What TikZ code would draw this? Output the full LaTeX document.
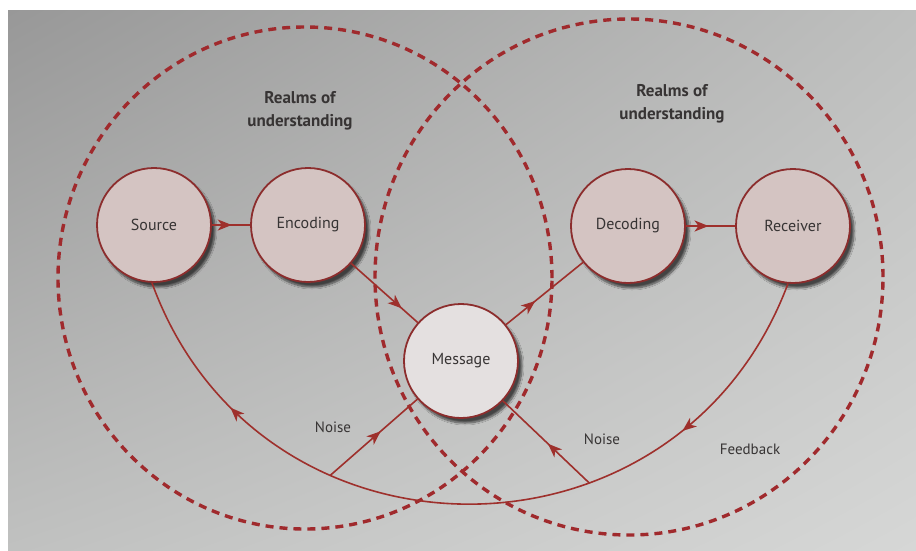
\documentclass[tikz,border=0pt]{standalone}
\usepackage{fontspec}
\setmainfont{PT Sans}
\usetikzlibrary{arrows.meta,decorations.markings,shadows.blur,shadings}

\definecolor{bgUL}{RGB}{152,152,152}
\definecolor{bgUR}{RGB}{190,191,190}
\definecolor{bgLL}{RGB}{192,193,192}
\definecolor{bgLR}{RGB}{214,215,214}
\definecolor{realmred}{RGB}{160,42,45}
\definecolor{wire}{RGB}{158,48,44}
\definecolor{rim}{RGB}{140,45,45}
\definecolor{disc}{RGB}{212,196,194}
\definecolor{discmsg}{RGB}{228,224,224}
\definecolor{ink}{RGB}{55,52,52}

\tikzset{
  stage/.style={circle, minimum size=114pt, inner sep=0pt, draw=rim,
    line width=1.8pt, fill=disc, text=ink,
    font=\fontsize{16}{18}\selectfont,
    blur shadow={shadow xshift=4pt, shadow yshift=-5pt,
      shadow blur steps=10, shadow opacity=65}},
  realm/.style={draw=realmred, line width=3.4pt, dash pattern=on 8pt off 6pt},
  flow/.style={draw=wire, line width=1.6pt},
  headat/.style={postaction={decorate}, decoration={markings,
    mark=at position #1 with {\arrow[color=wire]{Stealth[length=14pt,width=11pt,inset=4pt]}}}},
  twoheads/.style 2 args={postaction={decorate}, decoration={markings,
    mark=at position #1 with {\arrow[color=wire]{Stealth[length=14pt,width=11pt,inset=4pt]}},
    mark=at position #2 with {\arrow[color=wire]{Stealth[length=14pt,width=11pt,inset=4pt]}}}},
  lbl/.style={text=ink, font=\fontsize{15}{17}\selectfont},
  realmtxt/.style={text=ink, align=center, font=\bfseries\fontsize{17}{23}\selectfont},
}

\begin{document}
\begin{tikzpicture}[x=1pt,y=-1pt]
  \useasboundingbox (0,0) rectangle (916,550);
  \fill[white] (0,0) rectangle (916,550);
  % page background
  \shade[upper left=bgUL, upper right=bgUR, lower left=bgLL, lower right=bgLR]
    (8,10) rectangle (916,550);

  % the two realms of understanding
  \draw[realm] (305,278) ellipse [x radius=247pt, y radius=251pt];
  \draw[realm] (629,277) ellipse [x radius=254pt, y radius=258pt];

  % stages
  \node[stage] (src) at (154,225) {Source};
  \node[stage] (enc) at (308,225) {Encoding};
  \node[stage, fill=discmsg] (msg) at (461,361) {Message};
  \node[stage] (dec) at (628,226) {Decoding};
  \node[stage] (rcv) at (793,226) {Receiver};

  % main flow
  \draw[flow, headat=0.52] (src) -- (enc);
  \draw[flow, headat=0.76] (enc) -- (msg);
  \draw[flow, headat=0.38] (msg) -- (dec);
  \draw[flow, headat=0.46] (dec) -- (rcv);

  % feedback loop
  \draw[flow, twoheads={0.222}{0.82}] (rcv.-95)
    .. controls +(-110,294) and +(107,295) ..
    coordinate[pos=0.345] (jr) coordinate[pos=0.68] (jl) (src.-92);

  % noise
  \draw[flow, headat=0.58] (jl) -- (msg);
  \draw[flow, headat=0.48] (jr) -- (msg);

  % labels
  \node[lbl] (n1) at (333,427) {Noise};
  \node[lbl] (n2) at (602,439) {Noise};
  \node[lbl] (fb) at (750,449) {Feedback};
  \node[realmtxt] (r1) at (300,111) {Realms of\\understanding};
  \node[realmtxt] (r2) at (672,104) {Realms of\\understanding};
\end{tikzpicture}
\end{document}
